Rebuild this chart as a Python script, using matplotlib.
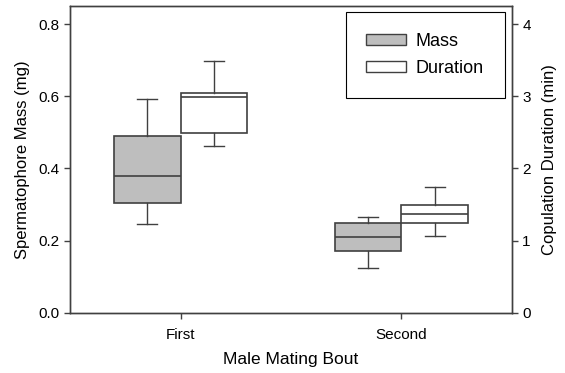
import matplotlib
matplotlib.use('Agg')
import matplotlib.pyplot as plt
from matplotlib.patches import Patch

# 数据（从图中读取的箱线图统计量）
bouts = ['First', 'Second']
mass_low = [0.247, 0.124]
mass_q1 = [0.304, 0.171]
mass_med = [0.378, 0.209]
mass_q3 = [0.490, 0.248]
mass_high = [0.592, 0.267]

dur_low = [2.31, 1.07]
dur_q1 = [2.49, 1.24]
dur_med = [2.99, 1.37]
dur_q3 = [3.05, 1.49]
dur_high = [3.49, 1.74]

plt.rcParams['font.family'] = ['Liberation Sans', 'DejaVu Sans']

edge = '#404040'
gray = '#bebebe'

fig = plt.figure(figsize=(5.65, 3.73), dpi=100)
ax = fig.add_axes([0.124, 0.161, 0.782, 0.823])
ax2 = ax.twinx()

def make_stats(low, q1, med, q3, high):
    return [dict(whislo=a, q1=b, med=c, q3=d, whishi=e)
            for a, b, c, d, e in zip(low, q1, med, q3, high)]

pos = [1, 2]
common = dict(widths=0.3, showfliers=False, patch_artist=True, capwidths=0.09,
              whiskerprops=dict(color=edge, linewidth=1),
              capprops=dict(color=edge, linewidth=1),
              medianprops=dict(color=edge, linewidth=1.2))

ax.bxp(make_stats(mass_low, mass_q1, mass_med, mass_q3, mass_high),
       positions=[p - 0.15 for p in pos],
       boxprops=dict(facecolor=gray, edgecolor=edge, linewidth=1.2), **common)
ax2.bxp(make_stats(dur_low, dur_q1, dur_med, dur_q3, dur_high),
        positions=[p + 0.15 for p in pos],
        boxprops=dict(facecolor='white', edgecolor=edge, linewidth=1.2), **common)

ax.set_xlim(0.5, 2.5)
ax.set_ylim(0, 0.85)
ax2.set_ylim(0, 4.25)
ax.set_yticks([0.0, 0.2, 0.4, 0.6, 0.8])
ax.set_yticklabels(['0.0', '0.2', '0.4', '0.6', '0.8'])
ax2.set_yticks([0, 1, 2, 3, 4])
ax.set_xticks(pos)
ax.set_xticklabels(bouts)

for a in (ax, ax2):
    for s in a.spines.values():
        s.set_color(edge)
        s.set_linewidth(1)
    a.tick_params(direction='out', length=4, width=1, color=edge, labelsize=11)
ax.tick_params(axis='x', pad=7)

ax.set_xlabel('Male Mating Bout', fontsize=12.5, labelpad=7)
ax.set_ylabel('Spermatophore Mass (mg)', fontsize=12, labelpad=6)
ax2.set_ylabel('Copulation Duration (min)', fontsize=12, labelpad=8)

handles = [Patch(facecolor=gray, edgecolor=edge, label='Mass'),
           Patch(facecolor='white', edgecolor=edge, label='Duration')]
leg = ax2.legend(handles=handles, loc='upper right', bbox_to_anchor=(0.984, 0.98),
                 fontsize=13, fancybox=False, framealpha=1, edgecolor='black',
                 handlelength=2.2, handleheight=0.55, borderpad=1.15,
                 labelspacing=0.55, handletextpad=0.55, borderaxespad=0)
leg.get_frame().set_linewidth(0.8)

plt.savefig('out.png', dpi=100)
plt.close()
